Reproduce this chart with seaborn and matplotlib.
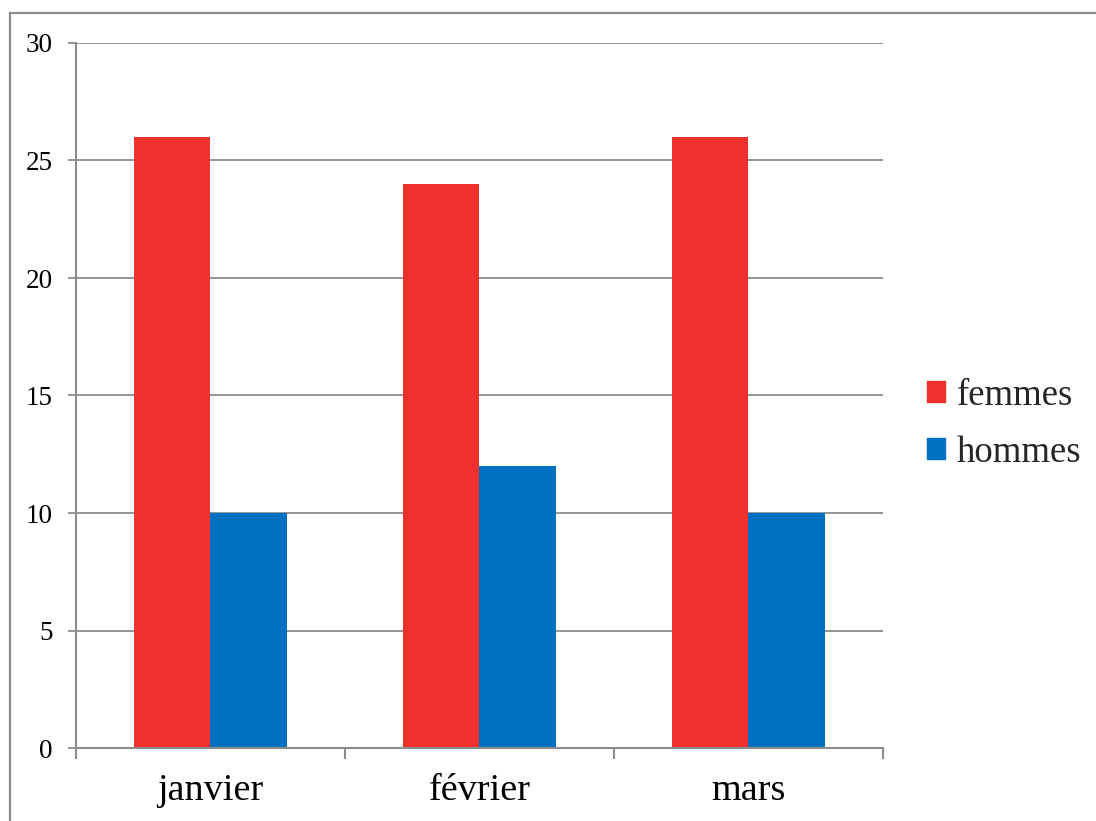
import matplotlib
matplotlib.use("Agg")
import matplotlib.pyplot as plt
import matplotlib.patches as mpatches
import seaborn as sns
import pandas as pd

mois = ["janvier", "février", "mars"]
femmes = [26, 24, 26]
hommes = [10, 12, 10]
series = ["femmes", "hommes"]
couleurs = ["#EF302D", "#0070C0"]
graduations = [0, 5, 10, 15, 20, 25, 30]

df = pd.DataFrame({
    "mois": mois * 2,
    "sexe": ["femmes"] * len(mois) + ["hommes"] * len(mois),
    "valeur": femmes + hommes,
})

sns.set_theme(style="white")
plt.rcParams["font.family"] = ["Liberation Serif", "DejaVu Serif"]

W, H = 1096, 821
fig = plt.figure(figsize=(W / 100, H / 100), dpi=100)
ax = fig.add_axes([76 / W, 1 - 748 / H, (883 - 76) / W, (748 - 43) / H])

sns.barplot(data=df, x="mois", y="valeur", hue="sexe", order=mois,
            hue_order=series, palette=couleurs, width=0.572, gap=0,
            saturation=1, ax=ax, errorbar=None, linewidth=0)

grille = "#8C8C8C"
ax.set_xlim(-0.5, 2.5)
ax.set_ylim(0, 30)
ax.set_yticks(graduations)
ax.yaxis.grid(True, color=grille, linewidth=1.3)
ax.set_axisbelow(True)
for s in ["top", "right"]:
    ax.spines[s].set_visible(False)
for s in ["left", "bottom"]:
    ax.spines[s].set_color(grille)
    ax.spines[s].set_linewidth(1.5)

ax.set_xlabel("")
ax.set_ylabel("")
ax.tick_params(axis="y", left=True, length=6, width=1.3, color=grille,
               pad=11, labelsize=19.5, labelcolor="black")
ax.tick_params(axis="x", which="major", bottom=False, length=0, pad=18,
               labelsize=27.5, labelcolor="black")
ax.set_xticks([-0.5, 0.5, 1.5, 2.5], minor=True)
ax.tick_params(axis="x", which="minor", bottom=True, length=8, width=1.5,
               color=grille)

handles = [mpatches.Patch(color=c, label=l) for c, l in zip(couleurs, series)]
ax.legend(handles=handles, loc="center left",
          bbox_to_anchor=(927 / W, 1 - 424 / H), bbox_transform=fig.transFigure,
          frameon=False, fontsize=26.5, handlelength=0.5, handleheight=0.5,
          handletextpad=0.3, labelspacing=0.62, borderpad=0, borderaxespad=0)

# Cadre du graphique
cadre = mpatches.Rectangle((10 / W, -0.2), 1.2, 1 - 13 / H + 0.2,
                           transform=fig.transFigure, fill=False,
                           edgecolor="#8C8C8C", linewidth=1.6, clip_on=False)
fig.patches.append(cadre)

fig.savefig("out.png", dpi=100, facecolor="white")
